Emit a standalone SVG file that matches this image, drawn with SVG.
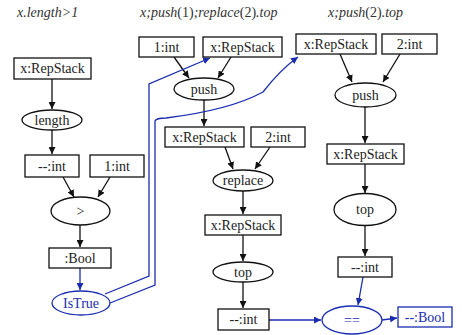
<svg xmlns="http://www.w3.org/2000/svg" width="462" height="335" viewBox="0 0 462 335" font-family="'Liberation Serif', serif" font-size="14">
<defs>
<marker id="ah" viewBox="0 0 10 10" refX="10" refY="5" markerWidth="7" markerHeight="7" markerUnits="userSpaceOnUse" orient="auto"><path d="M0,0L10,5L0,10z" fill="#111"/></marker>
<marker id="bh" viewBox="0 0 10 10" refX="10" refY="5" markerWidth="7" markerHeight="7" markerUnits="userSpaceOnUse" orient="auto"><path d="M0,0L10,5L0,10z" fill="#1a2db0"/></marker>
</defs>
<rect width="462" height="335" fill="#fff"/>
<g id="titles" font-style="italic" fill="#333">
<text x="17" y="17">x.length&gt;1</text>
<text x="140" y="17">x;push<tspan font-style="normal">(1)</tspan>;replace<tspan font-style="normal">(2)</tspan>.top</text>
<text x="328" y="17">x;push<tspan font-style="normal">(2)</tspan>.top</text>
</g>
<g id="connectors" fill="none" stroke-width="1.3">
<g stroke="#111" marker-end="url(#ah)">
<path d="M52,79V109"/>
<path d="M52,130V154"/>
<path d="M63,177L74,197"/>
<path d="M110,177L98,197"/>
<path d="M80,225V247"/>
<path d="M174,57L189,78"/>
<path d="M231,57L218,78"/>
<path d="M204,100V126"/>
<path d="M225,147L233,169"/>
<path d="M270,147L255,169"/>
<path d="M243,191V214"/>
<path d="M243,235V261"/>
<path d="M243,282V308"/>
<path d="M340,54L352,82"/>
<path d="M400,54L383,82"/>
<path d="M365,107V143"/>
<path d="M365,164V193"/>
<path d="M365,226V256"/>
</g>
<g stroke="#1a2db0" marker-end="url(#bh)">
<path d="M80,268V290"/>
<path d="M105,294L149,276V84L210,58"/>
<path d="M110,303L155,285V121Q156,118 166,118Q230,110 263,92Q280,70 298,57"/>
<path d="M269,320H321"/>
<path d="M363,277L358,305"/>
<path d="M382,320L397,318"/>
</g>
</g>
<g id="nodes" text-anchor="middle" fill="#222">
<g fill="#fff" stroke="#111" stroke-width="1.3">
<rect id="n1" x="14" y="58" width="77" height="21"/>
<ellipse id="n2" cx="52" cy="120" rx="30" ry="10"/>
<rect id="n3" x="25" y="155" width="54" height="22"/>
<rect id="n4" x="90" y="155" width="54" height="22"/>
<ellipse id="n5" cx="80.5" cy="211" rx="29.5" ry="14"/>
<rect id="n6" x="49" y="248" width="62" height="20"/>
<rect id="n8" x="139" y="37" width="55" height="20"/>
<rect id="n9" x="203" y="37" width="79" height="20"/>
<ellipse id="n10" cx="204" cy="89" rx="30" ry="11"/>
<rect id="n11" x="165" y="127" width="79" height="20"/>
<rect id="n12" x="251" y="127" width="54" height="20"/>
<ellipse id="n13" cx="243" cy="180.5" rx="30" ry="10.5"/>
<rect id="n14" x="205" y="215" width="76" height="20"/>
<ellipse id="n15" cx="243" cy="272" rx="30" ry="10"/>
<rect id="n16" x="218" y="309" width="51" height="21"/>
<rect id="n17" x="296" y="34" width="80" height="20"/>
<rect id="n18" x="382" y="34" width="55" height="20"/>
<ellipse id="n19" cx="365.5" cy="95" rx="30.5" ry="12"/>
<rect id="n20" x="327" y="144" width="77" height="20"/>
<ellipse id="n21" cx="365" cy="209.5" rx="31" ry="16"/>
<rect id="n22" x="338" y="257" width="54" height="20"/>
</g>
<g fill="#fff" stroke="#1a2db0" stroke-width="1.3">
<ellipse id="n7" cx="81" cy="303" rx="29" ry="12"/>
<ellipse id="n23" cx="352" cy="320" rx="30" ry="14"/>
<rect id="n24" x="398" y="307" width="54" height="20"/>
</g>
<text x="52.5" y="73">x:RepStack</text>
<text x="52" y="125">length</text>
<text x="52" y="171">--:int</text>
<text x="117" y="171">1:int</text>
<text x="80.5" y="216">&gt;</text>
<text x="80" y="263">:Bool</text>
<text x="166.5" y="52">1:int</text>
<text x="242.5" y="52">x:RepStack</text>
<text x="204" y="94">push</text>
<text x="204.5" y="142">x:RepStack</text>
<text x="278" y="142">2:int</text>
<text x="243" y="185">replace</text>
<text x="243" y="230">x:RepStack</text>
<text x="243" y="277">top</text>
<text x="243.5" y="324">--:int</text>
<text x="336" y="49">x:RepStack</text>
<text x="409.5" y="49">2:int</text>
<text x="365.5" y="100">push</text>
<text x="365.5" y="159">x:RepStack</text>
<text x="365" y="214">top</text>
<text x="365" y="272">--:int</text>
<g fill="#1a2db0">
<text x="81" y="308">IsTrue</text>
<text x="352" y="325">==</text>
<text x="425" y="322">--:Bool</text>
</g>
</g>
</svg>
